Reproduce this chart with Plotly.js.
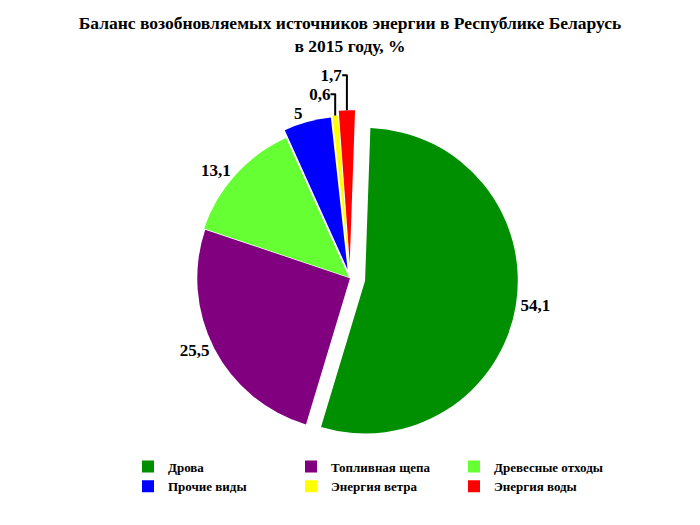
<!DOCTYPE html>
<html>
<head>
<meta charset="utf-8">
<script src="https://cdn.plot.ly/plotly-3.0.1.min.js"></script>
<style>
  body { margin: 0; background: #fff; }
  #chart { width: 700px; height: 525px; }
</style>
</head>
<body>
<div id="chart"></div>
<script>
// данные диаграммы
var sources = ['Дрова', 'Топливная щепа', 'Древесные отходы', 'Прочие виды', 'Энергия ветра', 'Энергия воды'];
var shares = [54.1, 25.5, 13.1, 5, 0.6, 1.7];
var colors = ['#008f00', '#800080', '#66ff33', '#0000ff', '#ffff00', '#ff0000'];

var serif = 'Liberation Serif, Times New Roman, serif';

var trace = {
    type: 'pie',
    labels: sources,
    values: shares,
    sort: false,
    direction: 'clockwise',
    rotation: 2,
    pull: [0.1, 0, 0.01, 0.06, 0.07, 0.1],
    marker: { colors: colors, line: { width: 0 } },
    textposition: 'outside',
    texttemplate: '<b>%{value}</b>',
    textfont: { family: serif, size: 17, color: '#000' },
    hoverinfo: 'label+value',
    domain: { x: [0, 1], y: [0.15, 0.79] }
};

var layout = {
    width: 700,
    height: 525,
    // боковые поля сужают область, чтобы легенда шла по 3 элемента в строке
    margin: { l: 100, r: 100, t: 0, b: 0 },
    paper_bgcolor: '#fff',
    separators: ', ',
    title: {
        text: '<b>Баланс возобновляемых источников энергии в Республике Беларусь<br>в 2015 году, %</b>',
        font: { family: serif, size: 17.5, color: '#000' },
        xref: 'paper',
        x: 0.5,
        xanchor: 'center',
        yref: 'container',
        y: 0.945,
        yanchor: 'middle'
    },
    showlegend: true,
    legend: {
        orientation: 'h',
        x: 0.056,
        xanchor: 'left',
        y: 0.14,
        yanchor: 'top',
        entrywidth: 118,
        itemwidth: 30,
        traceorder: 'normal',
        font: { family: serif, size: 13, color: '#000', weight: 'bold' },
        itemclick: false
    }
};

Plotly.newPlot('chart', [trace], layout, { displayModeBar: false });
</script>
</body>
</html>
